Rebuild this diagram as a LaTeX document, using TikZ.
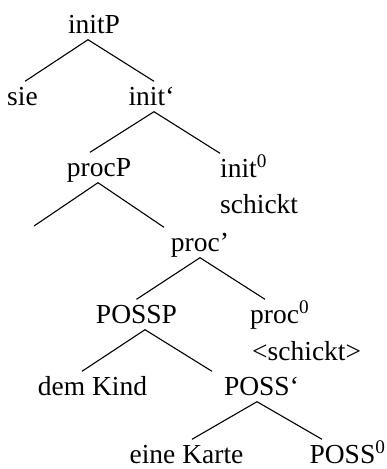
\documentclass[tikz,border=0pt]{standalone}
\usepackage{fontspec}
\setmainfont{Liberation Serif}
\usetikzlibrary{positioning}
\tikzset{
  cat/.style={
    inner xsep = 0pt,
    inner ysep = 1.5pt,
    text height = 22pt,
    text depth = 5pt,
    anchor = base,
    font = \fontsize{27.5}{30}\selectfont
  },
  catL/.style={
    cat,
    anchor = base west
  },
  branch/.style={
    line width = 1.1pt
  }
}

\begin{document}
\begin{tikzpicture}[x=1pt,y=-1pt]
    \useasboundingbox (0,0) rectangle (387,469);
    % first layer
    \node[cat] (initP) at (94,33) {initP};
    \node[cat] (sie) at (22.5,105) {sie};
    \node[cat] (initbar) at (151.5,105) {init‘};
    % second layer
    \node[cat] (procP) at (99,176) {procP};
    \node[catL] (init0) at (220,177) {init\textsuperscript{0}};
    \node[catL] (schickt) at (220,213) {schickt};
    \coordinate (trace) at (34,226);
    % third layer
    \node[cat] (procbar) at (200,251) {proc’};
    \node[cat] (POSSP) at (136.5,323) {POSSP};
    \node[catL] (proc0) at (250,323) {proc\textsuperscript{0}};
    \node[catL] (copy) at (252,360) {<schickt>};
    % last layer
    \node[cat] (dem) at (92.5,395) {dem Kind};
    \node[cat] (POSSbar) at (261.5,395) {POSS‘};
    \node[cat] (karte) at (186.5,463) {eine Karte};
    \node[cat] (POSS0) at (347.5,463) {POSS\textsuperscript{0}};
    % branches
    \draw[branch] ([xshift=2.5pt]sie.north) -- ([xshift=-6pt]initP.south) -- ([xshift=2.5pt]initbar.north);
    \draw[branch] ([xshift=-9pt]procP.north) -- ([xshift=2.5pt]initbar.south) -- (init0.north west);
    \draw[branch] (trace) -- ([xshift=-1pt]procP.south) -- ([xshift=-36pt]procbar.north);
    \draw[branch] (POSSP.north) -- (procbar.south) -- ([xshift=15pt]proc0.north west);
    \draw[branch] ([xshift=-10.5pt]dem.north) -- ([xshift=8.5pt]POSSP.south) -- ([xshift=-49.5pt]POSSbar.north);
    \draw[branch] ([xshift=5.5pt]karte.north) -- ([xshift=-4.5pt]POSSbar.south) -- ([xshift=-25.5pt]POSS0.north);
\end{tikzpicture}
\end{document}
